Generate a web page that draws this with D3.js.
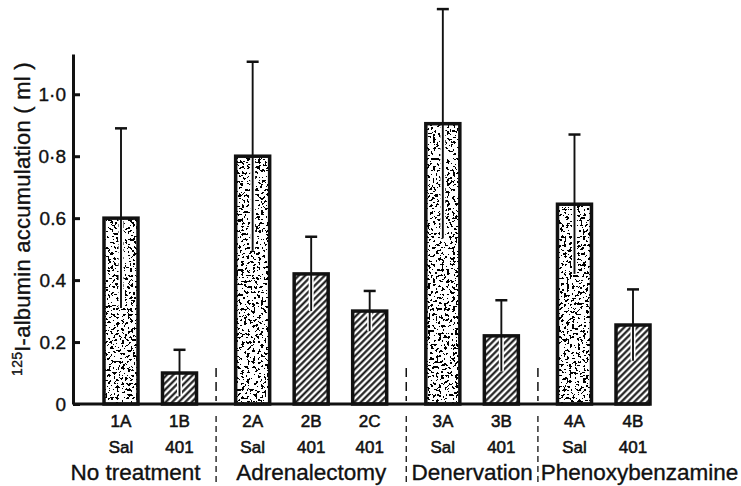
<!DOCTYPE html>
<html>
<head>
<meta charset="utf-8">
<script src="https://cdn.jsdelivr.net/npm/d3@7"></script>
<style>
  body { margin: 0; background: #fff; }
  text { font-family: "Liberation Sans", Arial, sans-serif; fill: #111; stroke: #111; stroke-width: 0.35px; }
  text.small { stroke-width: 0.55px; }
</style>
</head>
<body>
<div id="chart"></div>
<script>
// data
var codes = ["1A", "1B", "2A", "2B", "2C", "3A", "3B", "4A", "4B"];
var treatments = ["Sal", "401", "Sal", "401", "401", "Sal", "401", "Sal", "401"];
var groupIndex = [0, 0, 1, 1, 1, 2, 2, 3, 3];
var groupNames = ["No treatment", "Adrenalectomy", "Denervation", "Phenoxybenzamine"];
var means = [0.60, 0.10, 0.80, 0.42, 0.30, 0.905, 0.22, 0.645, 0.255];
var sems = [0.29, 0.075, 0.305, 0.12, 0.065, 0.37, 0.115, 0.225, 0.115];
var yTickValues = [0, 0.2, 0.4, 0.6, 0.8, 1.0];
var yTickLabels = ["0", "0.2", "0.4", "0.6", "0·8", "1·0"];

var chart_width = 741;
var chart_height = 486;
var groupGap = 0.25;
var barW = 34;

var svg = d3.select('#chart')
            .append('svg')
            .attr('width', chart_width)
            .attr('height', chart_height);

var defs = svg.append('defs');

// hatching for the 401 bars
var hatch = defs.append('pattern')
    .attr('id', 'hatch')
    .attr('patternUnits', 'userSpaceOnUse')
    .attr('width', 4.6)
    .attr('height', 4.6)
    .attr('patternTransform', 'rotate(45)');
hatch.append('rect').attr('width', 4.6).attr('height', 4.6).attr('fill', '#fff');
hatch.append('line')
    .attr('x1', 1.3).attr('y1', 0).attr('x2', 1.3).attr('y2', 4.6)
    .attr('stroke', '#111').attr('stroke-width', 2.1);

// stipple for the saline bars
var stip = defs.append('filter')
    .attr('id', 'stipple')
    .attr('x', 0).attr('y', 0).attr('width', 1).attr('height', 1);
stip.append('feTurbulence')
    .attr('type', 'fractalNoise')
    .attr('baseFrequency', 0.36)
    .attr('numOctaves', 2)
    .attr('seed', 11)
    .attr('result', 'noise');
stip.append('feColorMatrix')
    .attr('in', 'noise')
    .attr('type', 'matrix')
    .attr('values', '0 0 0 0 0  0 0 0 0 0  0 0 0 0 0  1.8 0 0 0 -0.36')
    .attr('result', 'a');
stip.append('feComponentTransfer')
    .attr('in', 'a')
    .attr('result', 'specks')
  .append('feFuncA')
    .attr('type', 'discrete')
    .attr('tableValues', '0 0 0 0 0 0 0 1 1 1');
stip.append('feFlood').attr('flood-color', '#fff').attr('result', 'white');
stip.append('feComposite')
    .attr('in', 'specks').attr('in2', 'white').attr('operator', 'over');

var slots = codes.map(function(c, i){
    return i + groupIndex[i] * groupGap;
});

var x = d3.scaleLinear()
    .domain([0, d3.max(slots)])
    .range([121, 633]);

var y = d3.scaleLinear()
    .domain([0, 1.13])
    .range([404, 54]);

var axisX = 73;

// y axis, ticks point inward
var yAxis = d3.axisLeft(y)
    .tickValues(yTickValues)
    .tickFormat(function(d, i){ return yTickLabels[i]; })
    .tickSize(-7)
    .tickSizeOuter(0)
    .tickPadding(7);

var gy = svg.append('g')
    .attr('transform', 'translate(' + axisX + ',0)')
    .call(yAxis);
gy.select('.domain').attr('stroke', '#111').attr('stroke-width', 3);
gy.selectAll('.tick line').attr('stroke', '#111').attr('stroke-width', 3);
gy.selectAll('.tick text')
    .attr('font-size', '19px')
    .attr('font-family', '"Liberation Sans", Arial, sans-serif')
    .attr('fill', '#111');

// y label
var ylab = svg.append('text')
    .attr('transform', 'translate(30,219) rotate(-90)')
    .attr('text-anchor', 'middle')
    .attr('font-size', '22px')
    .attr('letter-spacing', '0.25px');
ylab.append('tspan')
    .attr('font-size', '14px')
    .attr('dy', '-8')
    .text('125');
ylab.append('tspan')
    .attr('dy', '8')
    .text('I-albumin accumulation ( ml )');

// bars
var bars = svg.selectAll('g.bar')
    .data(codes)
    .enter()
    .append('g')
    .attr('class', 'bar');

bars.append('rect')
    .attr('x', function(d, i){ return x(slots[i]) - barW / 2; })
    .attr('y', function(d, i){ return y(means[i]); })
    .attr('width', barW)
    .attr('height', function(d, i){ return y(0) - y(means[i]); })
    .attr('fill', function(d, i){ return treatments[i] === 'Sal' ? '#fff' : 'url(#hatch)'; })
    .attr('filter', function(d, i){ return treatments[i] === 'Sal' ? 'url(#stipple)' : null; });

// error bars (halo inside the bar)
bars.append('line')
    .attr('x1', function(d, i){ return x(slots[i]); })
    .attr('x2', function(d, i){ return x(slots[i]); })
    .attr('y1', function(d, i){ return y(means[i]); })
    .attr('y2', function(d, i){ return y(Math.max(means[i] - sems[i], 0)); })
    .attr('stroke', '#fff')
    .attr('stroke-width', 5);

bars.append('rect')
    .attr('x', function(d, i){ return x(slots[i]) - barW / 2; })
    .attr('y', function(d, i){ return y(means[i]); })
    .attr('width', barW)
    .attr('height', function(d, i){ return y(0) - y(means[i]); })
    .attr('fill', 'none')
    .attr('stroke', '#111')
    .attr('stroke-width', 3.5);

bars.append('line')
    .attr('x1', function(d, i){ return x(slots[i]); })
    .attr('x2', function(d, i){ return x(slots[i]); })
    .attr('y1', function(d, i){ return y(means[i] + sems[i]); })
    .attr('y2', function(d, i){ return y(Math.max(means[i] - sems[i], 0)); })
    .attr('stroke', '#111')
    .attr('stroke-width', 1.9);

bars.append('line')
    .attr('x1', function(d, i){ return x(slots[i]) - 6; })
    .attr('x2', function(d, i){ return x(slots[i]) + 6; })
    .attr('y1', function(d, i){ return y(means[i] + sems[i]); })
    .attr('y2', function(d, i){ return y(means[i] + sems[i]); })
    .attr('stroke', '#111')
    .attr('stroke-width', 2.5);

// baseline
svg.append('line')
    .attr('x1', axisX)
    .attr('x2', x(slots[slots.length - 1]) + barW / 2)
    .attr('y1', y(0))
    .attr('y2', y(0))
    .attr('stroke', '#111')
    .attr('stroke-width', 3);

// bar labels
bars.append('text')
    .attr('class', 'small')
    .attr('x', function(d, i){ return x(slots[i]); })
    .attr('y', 427)
    .attr('text-anchor', 'middle')
    .attr('font-size', '17px')
    .text(function(d){ return d; });

bars.append('text')
    .attr('class', 'small')
    .attr('x', function(d, i){ return x(slots[i]); })
    .attr('y', 453)
    .attr('text-anchor', 'middle')
    .attr('font-size', '17px')
    .text(function(d, i){ return treatments[i]; });

// group separators
var seps = [];
for (var i = 1; i < codes.length; i++) {
    if (groupIndex[i] !== groupIndex[i - 1]) {
        seps.push((x(slots[i]) + x(slots[i - 1])) / 2);
    }
}

svg.selectAll('line.sepTop')
    .data(seps)
    .enter()
    .append('line')
    .attr('class', 'sepTop')
    .attr('x1', function(d){ return d; })
    .attr('x2', function(d){ return d; })
    .attr('y1', y(0) - 36)
    .attr('y2', y(0) - 3)
    .attr('stroke', '#111')
    .attr('stroke-width', 1.5)
    .attr('stroke-dasharray', '9,5');

svg.selectAll('line.sepBottom')
    .data(seps)
    .enter()
    .append('line')
    .attr('class', 'sepBottom')
    .attr('x1', function(d){ return d; })
    .attr('x2', function(d){ return d; })
    .attr('y1', 416)
    .attr('y2', 484)
    .attr('stroke', '#111')
    .attr('stroke-width', 1.3)
    .attr('stroke-dasharray', '6,4');

// group names, centred between their bounds
var bounds = [axisX - 18].concat(seps).concat([chart_width]);
svg.selectAll('text.group')
    .data(groupNames)
    .enter()
    .append('text')
    .attr('class', 'group')
    .attr('x', function(d, i){ return (bounds[i] + bounds[i + 1]) / 2; })
    .attr('y', 480)
    .attr('text-anchor', 'middle')
    .attr('font-size', '22.5px')
    .text(function(d){ return d; });
</script>
</body>
</html>
